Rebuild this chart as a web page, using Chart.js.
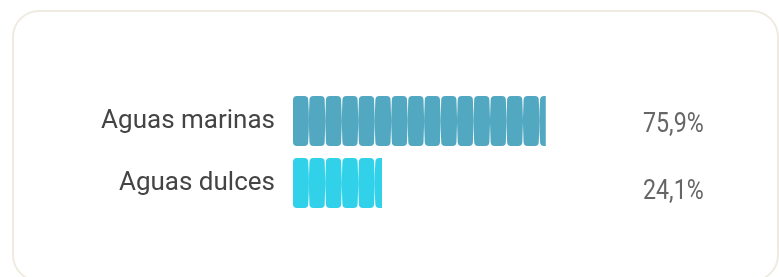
<!doctype html>
<html lang="es">
  <head>
    <meta charset="UTF-8" />
    <title>Aguas marinas y dulces</title>
    <script src="https://cdn.jsdelivr.net/npm/chart.js"></script>
    <style>
      html, body {
        margin: 0;
        padding: 0;
        background: #fff;
        overflow: hidden;
      }

      .card {
        position: absolute;
        left: 12px;
        top: 10px;
        width: 763px;
        height: 268px;
        border: 2px solid #efebe1;
        border-radius: 27px;
        background: #fff;
      }

      #chart {
        position: absolute;
        left: 0;
        top: 0;
      }
    </style>
  </head>
  <body>
    <div class="card"></div>
    <canvas id="chart" width="779" height="277"></canvas>

    <script>
      // data
      const categories = ['Aguas marinas', 'Aguas dulces'];
      const values = [75.9, 24.1];
      const valueLabels = ['75,9%', '24,1%'];
      const barColors = ['#52a7c1', '#30d1e9'];

      // cuts each bar into small rounded blocks, like the original pictorial bar
      const segmentPlugin = {
        id: 'segments',
        afterDatasetsDraw(chart) {
          const ctx = chart.ctx;
          const meta = chart.getDatasetMeta(0);
          const period = 16.47;
          const w = 15.2;
          const r = 4;

          meta.data.forEach((bar, i) => {
            const left = Math.min(bar.base, bar.x);
            const right = Math.max(bar.base, bar.x);
            const top = bar.y - bar.height / 2;
            const bottom = bar.y + bar.height / 2;
            const mid = bar.y;

            ctx.save();
            ctx.beginPath();
            ctx.rect(left, top - 2, right - left, bottom - top + 4);
            ctx.clip();
            ctx.fillStyle = barColors[i];

            for (let x = left; x < right; x += period) {
              ctx.beginPath();
              ctx.moveTo(x + r, top);
              ctx.lineTo(x + w - r, top);
              ctx.quadraticCurveTo(x + w, top, x + w, top + r);
              ctx.quadraticCurveTo(x + w + 1.4, mid, x + w, bottom - r);
              ctx.quadraticCurveTo(x + w, bottom, x + w - r, bottom);
              ctx.lineTo(x + r, bottom);
              ctx.quadraticCurveTo(x, bottom, x, bottom - r);
              ctx.quadraticCurveTo(x - 1.4, mid, x, top + r);
              ctx.quadraticCurveTo(x, top, x + r, top);
              ctx.closePath();
              ctx.fill();
            }
            ctx.restore();
          });
        },
      };

      // percentage text on the right side of each row (narrow, like the original font)
      const valueLabelPlugin = {
        id: 'valueLabels',
        afterDraw(chart) {
          const ctx = chart.ctx;
          const meta = chart.getDatasetMeta(0);
          const sx = 0.86;
          ctx.save();
          ctx.font = '27px Roboto';
          ctx.fillStyle = '#666666';
          ctx.textAlign = 'left';
          ctx.textBaseline = 'middle';
          ctx.scale(sx, 1);
          meta.data.forEach((bar, i) => {
            ctx.fillText(valueLabels[i], (chart.chartArea.right + 21) / sx, bar.y + 4 + i * 5);
          });
          ctx.restore();
        },
      };

      new Chart(document.getElementById('chart').getContext('2d'), {
        type: 'bar',
        data: {
          labels: categories,
          datasets: [
            {
              data: values,
              base: -4,
              backgroundColor: 'rgba(0,0,0,0)',
              borderWidth: 0,
              barThickness: 50,
            },
          ],
        },
        options: {
          indexAxis: 'y',
          responsive: false,
          animation: false,
          layout: {
            padding: { left: 0, right: 157, top: 90, bottom: 63 },
          },
          scales: {
            x: {
              display: false,
              min: -4,
              max: 100,
            },
            y: {
              afterFit(axis) {
                axis.width = 293;
              },
              grid: { display: false, drawTicks: false },
              border: { display: false },
              ticks: {
                padding: 18,
                color: '#444444',
                font: { family: 'Roboto', size: 26 },
              },
            },
          },
          plugins: {
            legend: { display: false },
            tooltip: { enabled: false },
          },
        },
        plugins: [segmentPlugin, valueLabelPlugin],
      });
    </script>
  </body>
</html>
